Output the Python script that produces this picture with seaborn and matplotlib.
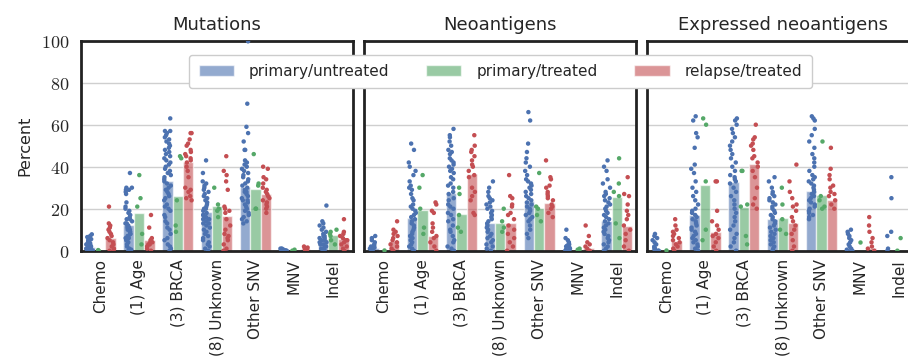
import numpy as np
import pandas as pd
import seaborn as sns
import matplotlib.pyplot as plt
import matplotlib.ticker as ticker

CATEGORIES = ["Chemo", "(1) Age", "(3) BRCA", "(8) Unknown", "Other SNV", "MNV", "Indel"]
GROUPS = ["primary/untreated", "primary/treated", "relapse/treated"]
PANELS = ["Mutations", "Neoantigens", "Expressed neoantigens"]
COLORS = ["#4C72B0", "#55A868", "#C44E52"]

# bar heights (mean percent) per panel, one list per group
MUT_BARS = [
    [1.6, 12.2, 33.2, 18.4, 30.2, 0.8, 5.6],
    [0.4, 18.1, 26.2, 21.1, 29.4, 0.5, 7.5],
    [5.9, 5.1, 42.1, 16.3, 26.8, 0.7, 5.4],
]
NEO_BARS = [
    [1.3, 15.7, 27.5, 13.0, 23.7, 0.5, 14.1],
    [0.2, 19.2, 17.3, 13.0, 20.3, 0.3, 25.4],
    [4.4, 7.1, 36.5, 13.0, 22.7, 1.5, 11.6],
]
EXP_BARS = [
    [1.0, 17.1, 32.7, 15.1, 28.6, 0.3, 0.5],
    [0.2, 31.1, 21.0, 15.6, 26.3, 0.1, 0.3],
    [4.6, 8.7, 41.1, 13.2, 24.3, 1.3, 0.3],
]

# individual samples (percent) per category
MUT_UNTREATED = [
    [0, 0, 0, 0, 0, 0, 0.5, 0.5, 1, 1, 1, 1.5, 1.5, 2, 2, 2.5, 3, 3.5, 4, 4.5, 5, 5.5, 6, 6.5, 7, 7.8],
    [0, 0.5, 1, 2, 3, 4, 5, 5, 6, 6, 7, 7, 8, 8, 9, 9, 10, 10, 11, 11, 12, 12, 13, 13, 14, 15, 15,
     16, 17, 18, 19, 20, 21, 23, 27, 28, 29, 29, 30, 30, 37],
    [0, 1, 2, 3, 5, 6, 8, 10, 11, 13, 14, 16, 17, 19, 20, 21, 22, 24, 25, 26, 27, 28, 29, 30, 31, 32,
     33, 34, 35, 36, 37, 38, 39, 40, 41, 42, 43, 44, 45, 46, 47, 48, 49, 50, 51, 52, 53, 54, 55, 56,
     57, 57, 63],
    [0, 1, 2, 3, 4, 5, 6, 7, 8, 9, 10, 11, 12, 13, 13, 14, 15, 15, 16, 17, 17, 18, 19, 20, 20, 21, 22,
     23, 24, 25, 26, 27, 28, 29, 30, 31, 32, 33, 37, 43],
    [13, 14, 15, 16, 17, 18, 19, 20, 21, 22, 23, 24, 24, 25, 26, 27, 28, 28, 29, 30, 31, 32, 33, 34,
     35, 36, 37, 38, 39, 40, 41, 42, 43, 48, 48, 52, 56, 59, 70, 99.7],
    [0, 0, 0, 0.2, 0.3, 0.5, 0.7, 0.8, 1, 1],
    [0, 0, 1, 1, 2, 2, 3, 3, 4, 4, 5, 5, 6, 6, 7, 7, 8, 9, 10, 11, 12, 13, 14, 21.5],
]
MUT_TREATED = [
    [0, 0.3],
    [36, 25, 21, 8, 3],
    [45, 44, 24, 12, 9],
    [30, 22, 20, 19, 16],
    [46, 32, 31, 20, 20],
    [0, 0.5],
    [10, 9, 8, 7, 5, 3],
]
MUT_RELAPSE = [
    [0, 0, 1, 2, 3, 4, 5, 6, 7, 8, 9, 10, 11, 12, 13, 21],
    [17, 11, 6, 5, 5, 4, 4, 3, 3, 2, 1, 0],
    [56, 56, 53, 51, 50, 48, 47, 46, 45, 44, 43, 42, 40, 38, 35, 30, 29, 28, 26, 25, 24],
    [45, 38, 36, 33, 29, 21, 20, 19, 18, 15, 12, 10, 8, 7, 6, 5, 3, 1, 0],
    [40, 39, 35, 34, 32, 30, 29, 28, 27, 26, 25, 24, 23, 22, 21, 20, 18],
    [0, 0.5, 1, 1.5, 2],
    [15, 9, 8, 7, 6, 5, 5, 4, 3, 2, 1, 0],
]

NEO_UNTREATED = [
    [0, 0, 0, 0.5, 1, 1.5, 2, 2.5, 3, 4, 5, 6, 7],
    [0, 1, 2, 3, 4, 5, 6, 7, 8, 9, 10, 11, 12, 13, 14, 15, 16, 17, 18, 19, 20, 21, 22, 24, 25, 27,
     29, 30, 31, 33, 36, 38, 40, 42, 48, 51],
    [0, 1, 2, 4, 5, 7, 9, 10, 12, 14, 15, 17, 18, 20, 21, 22, 24, 25, 27, 28, 30, 31, 32, 34, 35, 37,
     38, 39, 40, 41, 42, 43, 44, 46, 47, 48, 50, 52, 54, 55, 58],
    [0, 1, 2, 3, 4, 5, 6, 7, 8, 9, 10, 11, 12, 13, 14, 15, 16, 17, 18, 19, 20, 21, 22, 23, 24, 25, 26,
     28, 30, 33],
    [6, 8, 10, 12, 14, 15, 16, 17, 18, 19, 20, 21, 22, 23, 24, 25, 26, 27, 28, 29, 30, 31, 32, 33, 34,
     36, 38, 40, 42, 44, 47, 51, 62, 66],
    [0, 0, 0, 0.5, 1, 1.5, 2, 2.5, 3, 4, 5, 6, 10],
    [0, 1, 2, 3, 4, 5, 6, 7, 8, 9, 10, 11, 12, 13, 14, 15, 16, 17, 18, 19, 20, 21, 22, 23, 24, 25, 26,
     27, 28, 30, 32, 34, 38, 40, 43],
]
NEO_TREATED = [
    [0.2],
    [36, 30, 20, 11, 8],
    [30, 27, 17, 11, 9],
    [20, 14, 11, 9],
    [37, 21, 20, 17, 14],
    [0, 0.5, 1],
    [44, 32, 28, 26, 13, 6],
]
NEO_RELAPSE = [
    [0, 1, 2, 3, 4, 5, 6, 7, 8, 9, 10, 14],
    [23, 22, 19, 18, 13, 11, 9, 7, 6, 4, 2, 0],
    [55, 50, 48, 47, 45, 43, 41, 40, 38, 36, 35, 30, 28, 26, 24, 18, 17],
    [36, 26, 25, 22, 21, 18, 17, 15, 12, 10, 8, 6, 4, 2, 0],
    [43, 35, 34, 31, 30, 28, 27, 26, 25, 24, 22, 21, 20, 18, 16],
    [0, 1, 2, 3, 4, 7, 12],
    [35, 27, 26, 22, 19, 17, 15, 12, 10, 8, 5, 2, 0],
]

EXP_UNTREATED = [
    [0, 0, 0, 0.5, 1, 1.5, 2, 3, 4, 5, 6, 7, 8],
    [0, 1, 2, 3, 4, 5, 6, 7, 8, 9, 10, 11, 12, 13, 14, 15, 16, 17, 18, 19, 20, 22, 24, 26, 28, 30,
     33, 37, 39, 41, 49, 54, 56, 62, 64],
    [0, 2, 4, 6, 8, 10, 12, 14, 16, 18, 20, 22, 24, 26, 28, 30, 32, 33, 34, 35, 36, 38, 40, 42, 44,
     46, 48, 50, 52, 54, 56, 58, 60, 62, 63],
    [0, 1, 2, 3, 4, 5, 6, 7, 8, 9, 10, 11, 12, 13, 14, 15, 16, 17, 18, 19, 20, 21, 22, 23, 24, 25, 26,
     27, 28, 30, 33, 35],
    [15, 16, 17, 18, 19, 20, 21, 22, 23, 24, 25, 26, 27, 28, 29, 30, 31, 32, 33, 34, 35, 36, 38, 40,
     42, 44, 46, 49, 52, 55, 58, 62, 63, 64],
    [0, 0, 0.5, 1, 2, 3, 4, 5, 6, 7, 8, 9, 10],
    [35, 25, 9, 7, 1, 0],
]
EXP_TREATED = [
    [0.2],
    [63, 60, 33, 10, 5],
    [38, 38, 22, 21, 7, 3],
    [30, 22, 15, 10, 8],
    [52, 26, 24, 21, 20],
    [4],
    [6, 0],
]
EXP_RELAPSE = [
    [0, 1, 2, 3, 4, 5, 6, 7, 8, 9, 10, 12, 15],
    [33, 33, 19, 14, 12, 10, 8, 7, 6, 4, 2, 0],
    [60, 54, 53, 51, 50, 48, 45, 44, 42, 40, 38, 35, 30, 25, 22, 20],
    [41, 33, 28, 25, 22, 21, 19, 16, 14, 12, 10, 8, 5, 2, 0],
    [49, 39, 36, 34, 31, 30, 28, 27, 26, 24, 22, 20],
    [0, 1, 2, 4, 6, 9, 12, 16],
    [0],
]

PANEL_BARS = [MUT_BARS, NEO_BARS, EXP_BARS]
PANEL_POINTS = [
    [MUT_UNTREATED, MUT_TREATED, MUT_RELAPSE],
    [NEO_UNTREATED, NEO_TREATED, NEO_RELAPSE],
    [EXP_UNTREATED, EXP_TREATED, EXP_RELAPSE],
]


def long_frame(per_group):
    rows = []
    for group, per_cat in zip(GROUPS, per_group):
        for cat, vals in zip(CATEGORIES, per_cat):
            if np.isscalar(vals):
                vals = [vals]
            for v in vals:
                rows.append((cat, group, v))
    return pd.DataFrame(rows, columns=["category", "group", "value"])


sns.set_theme(style="whitegrid")
plt.rcParams["font.family"] = ["DejaVu Sans"]
plt.rcParams["mathtext.fontset"] = "cm"
np.random.seed(3)

fig = plt.figure(figsize=(9.08, 3.63), dpi=100)
W, H = 908.0, 363.0
lefts = [80.7, 364.3, 646.7]
axes = [fig.add_axes([l / W, (H - 250.7) / H, 272 / W, 210 / H]) for l in lefts]

handles = labels = None
for i, ax in enumerate(axes):
    bars = long_frame(PANEL_BARS[i])
    pts = long_frame(PANEL_POINTS[i])
    sns.barplot(
        data=bars, x="category", y="value", hue="group",
        order=CATEGORIES, hue_order=GROUPS, palette=COLORS, saturation=1,
        alpha=0.6, errorbar=None, edgecolor="white", linewidth=1,
        ax=ax, legend=(i == 0),
    )
    sns.stripplot(
        data=pts, x="category", y="value", hue="group",
        order=CATEGORIES, hue_order=GROUPS, palette=COLORS,
        dodge=True, jitter=0.28, size=3.2, linewidth=0,
        ax=ax, legend=False, zorder=3,
    )
    if i == 0:
        handles, labels = ax.get_legend_handles_labels()
        ax.get_legend().remove()

    ax.set_ylim(0, 100)
    ax.set_xlim(-0.5, 6.5)
    ax.set_yticks([0, 20, 40, 60, 80, 100])
    ax.yaxis.set_major_formatter(ticker.FuncFormatter(lambda v, p: f"${v:g}$"))
    ax.yaxis.grid(True, color="#cfcfcf", linewidth=1)
    ax.xaxis.grid(False)
    ax.set_axisbelow(True)
    for sp in ax.spines.values():
        sp.set_visible(True)
        sp.set_color("#222222")
        sp.set_linewidth(2)
    ax.tick_params(axis="x", rotation=90, length=0, labelsize=11, colors="#262626", pad=6)
    ax.tick_params(axis="y", length=0, labelsize=13, colors="#262626", pad=8)
    ax.set_xlabel("")
    ax.set_title(PANELS[i], fontsize=13, color="#262626", pad=8)
    if i == 0:
        ax.set_ylabel("Percent", fontsize=11.5, color="#262626", labelpad=6)
    else:
        ax.set_ylabel("")
        ax.tick_params(labelleft=False)

fig.legend(
    handles, labels, loc="upper center", bbox_to_anchor=(500.5 / W, 1 - 47 / H),
    ncol=3, fontsize=11, frameon=True, handlelength=2.3, handleheight=0.8,
    handletextpad=1.0, columnspacing=2.4, borderpad=0.6, framealpha=1,
    edgecolor="#cccccc",
)

plt.savefig("out.png", dpi=100)
